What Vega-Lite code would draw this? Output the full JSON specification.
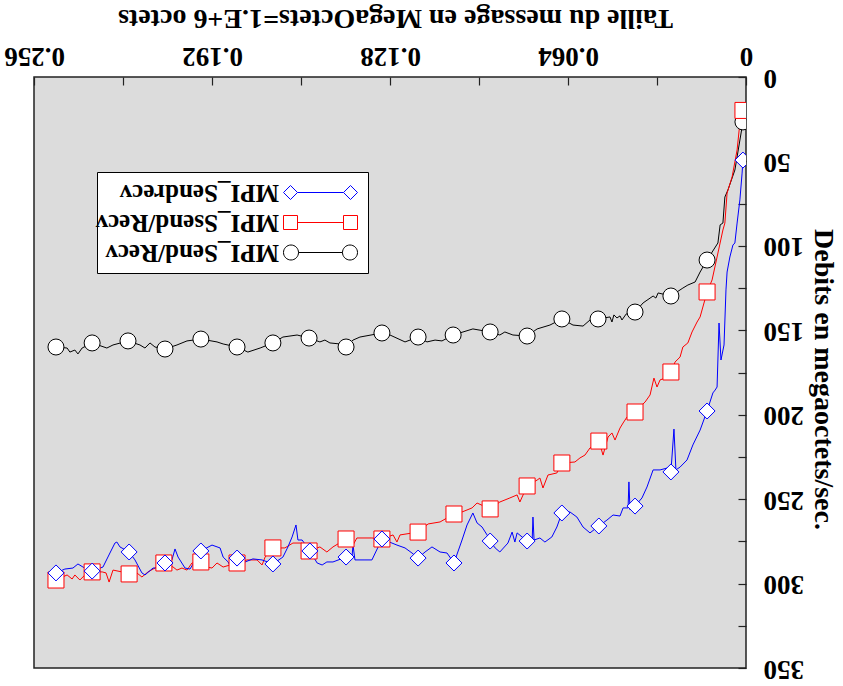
{
  "$schema": "https://vega.github.io/schema/vega-lite/v6.json",
  "width": 712,
  "height": 591,
  "autosize": {"type": "none"},
  "padding": {"left": 34, "top": 77, "right": 97, "bottom": 18},
  "background": "white",
  "config": {
    "view": {"fill": "#dcdcdc", "stroke": "#222222", "strokeWidth": 1.5},
    "font": "Liberation Serif",
    "axis": {
      "grid": false, "domain": false,
      "labelFont": "Liberation Serif", "labelFontSize": 27, "labelFontWeight": "bold", "labelColor": "black",
      "titleFont": "Liberation Serif", "titleFontSize": 28, "titleFontWeight": "bold", "titleColor": "black",
      "tickColor": "#222222", "tickSize": -8, "tickWidth": 1.2, "labelFlush": false, "labelOverlap": false
    }
  },
  "data": {"values": [
    {"s":"MPI_Send/Recv","x":0.0011,"y":26.6,"m":1},
    {"s":"MPI_Send/Recv","x":0.0040,"y":55.1},
    {"s":"MPI_Send/Recv","x":0.0065,"y":66.9},
    {"s":"MPI_Send/Recv","x":0.0076,"y":71.1},
    {"s":"MPI_Send/Recv","x":0.0083,"y":86.5},
    {"s":"MPI_Send/Recv","x":0.0093,"y":87.6},
    {"s":"MPI_Send/Recv","x":0.0101,"y":98.3},
    {"s":"MPI_Send/Recv","x":0.0140,"y":108.4,"m":1},
    {"s":"MPI_Send/Recv","x":0.0165,"y":115.5},
    {"s":"MPI_Send/Recv","x":0.0183,"y":121.4},
    {"s":"MPI_Send/Recv","x":0.0209,"y":123.2},
    {"s":"MPI_Send/Recv","x":0.0227,"y":125.0},
    {"s":"MPI_Send/Recv","x":0.0270,"y":129.7,"m":1},
    {"s":"MPI_Send/Recv","x":0.0316,"y":127.9},
    {"s":"MPI_Send/Recv","x":0.0324,"y":130.9},
    {"s":"MPI_Send/Recv","x":0.0334,"y":129.7},
    {"s":"MPI_Send/Recv","x":0.0370,"y":133.8},
    {"s":"MPI_Send/Recv","x":0.0399,"y":139.2,"m":1},
    {"s":"MPI_Send/Recv","x":0.0417,"y":139.2},
    {"s":"MPI_Send/Recv","x":0.0431,"y":140.4},
    {"s":"MPI_Send/Recv","x":0.0446,"y":143.9},
    {"s":"MPI_Send/Recv","x":0.0453,"y":141.5},
    {"s":"MPI_Send/Recv","x":0.0464,"y":142.7},
    {"s":"MPI_Send/Recv","x":0.0475,"y":140.9},
    {"s":"MPI_Send/Recv","x":0.0482,"y":145.1},
    {"s":"MPI_Send/Recv","x":0.0489,"y":142.1},
    {"s":"MPI_Send/Recv","x":0.0532,"y":143.3,"m":1},
    {"s":"MPI_Send/Recv","x":0.0561,"y":143.9},
    {"s":"MPI_Send/Recv","x":0.0586,"y":147.5},
    {"s":"MPI_Send/Recv","x":0.0622,"y":146.9},
    {"s":"MPI_Send/Recv","x":0.0662,"y":143.3,"m":1},
    {"s":"MPI_Send/Recv","x":0.0705,"y":146.9},
    {"s":"MPI_Send/Recv","x":0.0751,"y":149.2},
    {"s":"MPI_Send/Recv","x":0.0787,"y":153.4,"m":1},
    {"s":"MPI_Send/Recv","x":0.0838,"y":152.8},
    {"s":"MPI_Send/Recv","x":0.0867,"y":151.0},
    {"s":"MPI_Send/Recv","x":0.0885,"y":152.8},
    {"s":"MPI_Send/Recv","x":0.0920,"y":151.0,"m":1},
    {"s":"MPI_Send/Recv","x":0.0982,"y":149.2},
    {"s":"MPI_Send/Recv","x":0.1053,"y":152.8,"m":1},
    {"s":"MPI_Send/Recv","x":0.1093,"y":156.3},
    {"s":"MPI_Send/Recv","x":0.1118,"y":155.8},
    {"s":"MPI_Send/Recv","x":0.1147,"y":156.9},
    {"s":"MPI_Send/Recv","x":0.1179,"y":154.0,"m":1},
    {"s":"MPI_Send/Recv","x":0.1226,"y":156.9},
    {"s":"MPI_Send/Recv","x":0.1280,"y":152.8},
    {"s":"MPI_Send/Recv","x":0.1309,"y":151.6,"m":1},
    {"s":"MPI_Send/Recv","x":0.1388,"y":154.0},
    {"s":"MPI_Send/Recv","x":0.1413,"y":155.8},
    {"s":"MPI_Send/Recv","x":0.1438,"y":159.9,"m":1},
    {"s":"MPI_Send/Recv","x":0.1460,"y":158.1},
    {"s":"MPI_Send/Recv","x":0.1496,"y":157.5},
    {"s":"MPI_Send/Recv","x":0.1514,"y":155.8},
    {"s":"MPI_Send/Recv","x":0.1532,"y":156.9},
    {"s":"MPI_Send/Recv","x":0.1571,"y":154.6,"m":1},
    {"s":"MPI_Send/Recv","x":0.1614,"y":152.8},
    {"s":"MPI_Send/Recv","x":0.1665,"y":154.0},
    {"s":"MPI_Send/Recv","x":0.1701,"y":157.5,"m":1},
    {"s":"MPI_Send/Recv","x":0.1747,"y":160.5},
    {"s":"MPI_Send/Recv","x":0.1791,"y":162.9},
    {"s":"MPI_Send/Recv","x":0.1830,"y":159.9,"m":1},
    {"s":"MPI_Send/Recv","x":0.1880,"y":158.1},
    {"s":"MPI_Send/Recv","x":0.1902,"y":156.9},
    {"s":"MPI_Send/Recv","x":0.1960,"y":155.2,"m":1},
    {"s":"MPI_Send/Recv","x":0.2010,"y":156.3},
    {"s":"MPI_Send/Recv","x":0.2046,"y":158.7},
    {"s":"MPI_Send/Recv","x":0.2089,"y":161.1,"m":1},
    {"s":"MPI_Send/Recv","x":0.2125,"y":159.9},
    {"s":"MPI_Send/Recv","x":0.2143,"y":157.5},
    {"s":"MPI_Send/Recv","x":0.2161,"y":160.5},
    {"s":"MPI_Send/Recv","x":0.2179,"y":158.7},
    {"s":"MPI_Send/Recv","x":0.2222,"y":156.3,"m":1},
    {"s":"MPI_Send/Recv","x":0.2276,"y":158.7},
    {"s":"MPI_Send/Recv","x":0.2298,"y":160.5},
    {"s":"MPI_Send/Recv","x":0.2351,"y":157.5,"m":1},
    {"s":"MPI_Send/Recv","x":0.2387,"y":160.5},
    {"s":"MPI_Send/Recv","x":0.2402,"y":164.0},
    {"s":"MPI_Send/Recv","x":0.2413,"y":161.7},
    {"s":"MPI_Send/Recv","x":0.2431,"y":162.9},
    {"s":"MPI_Send/Recv","x":0.2441,"y":160.5},
    {"s":"MPI_Send/Recv","x":0.2481,"y":159.9,"m":1},

    {"s":"MPI_Ssend/Recv","x":0.0011,"y":19.8,"m":1},
    {"s":"MPI_Ssend/Recv","x":0.0022,"y":27.2},
    {"s":"MPI_Ssend/Recv","x":0.0032,"y":43.2},
    {"s":"MPI_Ssend/Recv","x":0.0050,"y":59.2},
    {"s":"MPI_Ssend/Recv","x":0.0068,"y":68.7},
    {"s":"MPI_Ssend/Recv","x":0.0076,"y":86.5},
    {"s":"MPI_Ssend/Recv","x":0.0083,"y":90.6},
    {"s":"MPI_Ssend/Recv","x":0.0104,"y":106.6},
    {"s":"MPI_Ssend/Recv","x":0.0122,"y":120.2},
    {"s":"MPI_Ssend/Recv","x":0.0140,"y":127.3,"m":1},
    {"s":"MPI_Ssend/Recv","x":0.0165,"y":142.1},
    {"s":"MPI_Ssend/Recv","x":0.0176,"y":145.1},
    {"s":"MPI_Ssend/Recv","x":0.0194,"y":151.0},
    {"s":"MPI_Ssend/Recv","x":0.0209,"y":157.5},
    {"s":"MPI_Ssend/Recv","x":0.0227,"y":159.9},
    {"s":"MPI_Ssend/Recv","x":0.0237,"y":165.8},
    {"s":"MPI_Ssend/Recv","x":0.0255,"y":168.8},
    {"s":"MPI_Ssend/Recv","x":0.0270,"y":174.7,"m":1},
    {"s":"MPI_Ssend/Recv","x":0.0291,"y":178.3},
    {"s":"MPI_Ssend/Recv","x":0.0309,"y":179.4},
    {"s":"MPI_Ssend/Recv","x":0.0320,"y":183.6},
    {"s":"MPI_Ssend/Recv","x":0.0331,"y":178.3},
    {"s":"MPI_Ssend/Recv","x":0.0345,"y":188.3},
    {"s":"MPI_Ssend/Recv","x":0.0363,"y":192.5},
    {"s":"MPI_Ssend/Recv","x":0.0374,"y":194.2},
    {"s":"MPI_Ssend/Recv","x":0.0399,"y":198.4,"m":1},
    {"s":"MPI_Ssend/Recv","x":0.0428,"y":201.4},
    {"s":"MPI_Ssend/Recv","x":0.0442,"y":204.9},
    {"s":"MPI_Ssend/Recv","x":0.0453,"y":207.9},
    {"s":"MPI_Ssend/Recv","x":0.0471,"y":215.0},
    {"s":"MPI_Ssend/Recv","x":0.0482,"y":210.8},
    {"s":"MPI_Ssend/Recv","x":0.0496,"y":213.2},
    {"s":"MPI_Ssend/Recv","x":0.0514,"y":223.9},
    {"s":"MPI_Ssend/Recv","x":0.0529,"y":215.6,"m":1},
    {"s":"MPI_Ssend/Recv","x":0.0561,"y":219.7},
    {"s":"MPI_Ssend/Recv","x":0.0579,"y":223.9},
    {"s":"MPI_Ssend/Recv","x":0.0597,"y":225.6},
    {"s":"MPI_Ssend/Recv","x":0.0615,"y":228.0},
    {"s":"MPI_Ssend/Recv","x":0.0662,"y":228.6,"m":1},
    {"s":"MPI_Ssend/Recv","x":0.0680,"y":234.5},
    {"s":"MPI_Ssend/Recv","x":0.0712,"y":235.7},
    {"s":"MPI_Ssend/Recv","x":0.0730,"y":243.4},
    {"s":"MPI_Ssend/Recv","x":0.0741,"y":237.5},
    {"s":"MPI_Ssend/Recv","x":0.0751,"y":238.7},
    {"s":"MPI_Ssend/Recv","x":0.0787,"y":242.2,"m":1},
    {"s":"MPI_Ssend/Recv","x":0.0813,"y":251.7},
    {"s":"MPI_Ssend/Recv","x":0.0823,"y":247.5},
    {"s":"MPI_Ssend/Recv","x":0.0849,"y":249.3},
    {"s":"MPI_Ssend/Recv","x":0.0885,"y":251.7},
    {"s":"MPI_Ssend/Recv","x":0.0920,"y":255.8,"m":1},
    {"s":"MPI_Ssend/Recv","x":0.0967,"y":252.3},
    {"s":"MPI_Ssend/Recv","x":0.0985,"y":255.2},
    {"s":"MPI_Ssend/Recv","x":0.1021,"y":257.6},
    {"s":"MPI_Ssend/Recv","x":0.1050,"y":258.8,"m":1},
    {"s":"MPI_Ssend/Recv","x":0.1100,"y":263.5},
    {"s":"MPI_Ssend/Recv","x":0.1143,"y":264.7},
    {"s":"MPI_Ssend/Recv","x":0.1179,"y":269.5,"m":1},
    {"s":"MPI_Ssend/Recv","x":0.1244,"y":271.2},
    {"s":"MPI_Ssend/Recv","x":0.1255,"y":275.4},
    {"s":"MPI_Ssend/Recv","x":0.1269,"y":271.2},
    {"s":"MPI_Ssend/Recv","x":0.1309,"y":273.6,"m":1},
    {"s":"MPI_Ssend/Recv","x":0.1345,"y":273.0},
    {"s":"MPI_Ssend/Recv","x":0.1399,"y":273.0},
    {"s":"MPI_Ssend/Recv","x":0.1413,"y":277.2},
    {"s":"MPI_Ssend/Recv","x":0.1438,"y":273.6,"m":1},
    {"s":"MPI_Ssend/Recv","x":0.1485,"y":278.3},
    {"s":"MPI_Ssend/Recv","x":0.1507,"y":281.3},
    {"s":"MPI_Ssend/Recv","x":0.1532,"y":278.3},
    {"s":"MPI_Ssend/Recv","x":0.1571,"y":280.7,"m":1},
    {"s":"MPI_Ssend/Recv","x":0.1596,"y":276.0},
    {"s":"MPI_Ssend/Recv","x":0.1629,"y":276.0},
    {"s":"MPI_Ssend/Recv","x":0.1658,"y":278.9},
    {"s":"MPI_Ssend/Recv","x":0.1701,"y":278.9,"m":1},
    {"s":"MPI_Ssend/Recv","x":0.1729,"y":284.3},
    {"s":"MPI_Ssend/Recv","x":0.1740,"y":289.0},
    {"s":"MPI_Ssend/Recv","x":0.1758,"y":286.0},
    {"s":"MPI_Ssend/Recv","x":0.1794,"y":286.0},
    {"s":"MPI_Ssend/Recv","x":0.1830,"y":287.8,"m":1},
    {"s":"MPI_Ssend/Recv","x":0.1880,"y":290.2},
    {"s":"MPI_Ssend/Recv","x":0.1902,"y":287.8},
    {"s":"MPI_Ssend/Recv","x":0.1920,"y":290.8},
    {"s":"MPI_Ssend/Recv","x":0.1938,"y":290.2},
    {"s":"MPI_Ssend/Recv","x":0.1960,"y":287.2,"m":1},
    {"s":"MPI_Ssend/Recv","x":0.1992,"y":287.8},
    {"s":"MPI_Ssend/Recv","x":0.2010,"y":292.0},
    {"s":"MPI_Ssend/Recv","x":0.2028,"y":290.8},
    {"s":"MPI_Ssend/Recv","x":0.2046,"y":292.0},
    {"s":"MPI_Ssend/Recv","x":0.2060,"y":290.2},
    {"s":"MPI_Ssend/Recv","x":0.2093,"y":287.8,"m":1},
    {"s":"MPI_Ssend/Recv","x":0.2125,"y":290.8},
    {"s":"MPI_Ssend/Recv","x":0.2150,"y":293.1},
    {"s":"MPI_Ssend/Recv","x":0.2172,"y":296.1},
    {"s":"MPI_Ssend/Recv","x":0.2190,"y":293.7},
    {"s":"MPI_Ssend/Recv","x":0.2218,"y":294.3,"m":1},
    {"s":"MPI_Ssend/Recv","x":0.2244,"y":293.1},
    {"s":"MPI_Ssend/Recv","x":0.2276,"y":292.0},
    {"s":"MPI_Ssend/Recv","x":0.2290,"y":299.1},
    {"s":"MPI_Ssend/Recv","x":0.2301,"y":293.7},
    {"s":"MPI_Ssend/Recv","x":0.2315,"y":293.1},
    {"s":"MPI_Ssend/Recv","x":0.2351,"y":293.1,"m":1},
    {"s":"MPI_Ssend/Recv","x":0.2377,"y":294.9},
    {"s":"MPI_Ssend/Recv","x":0.2395,"y":297.9},
    {"s":"MPI_Ssend/Recv","x":0.2413,"y":294.9},
    {"s":"MPI_Ssend/Recv","x":0.2423,"y":297.3},
    {"s":"MPI_Ssend/Recv","x":0.2441,"y":294.9},
    {"s":"MPI_Ssend/Recv","x":0.2481,"y":297.9,"m":1},

    {"s":"MPI_Sendrecv","x":0.0011,"y":49.2,"m":1},
    {"s":"MPI_Sendrecv","x":0.0014,"y":56.9},
    {"s":"MPI_Sendrecv","x":0.0022,"y":72.8},
    {"s":"MPI_Sendrecv","x":0.0032,"y":86.5},
    {"s":"MPI_Sendrecv","x":0.0040,"y":98.3},
    {"s":"MPI_Sendrecv","x":0.0047,"y":99.5},
    {"s":"MPI_Sendrecv","x":0.0058,"y":106.6},
    {"s":"MPI_Sendrecv","x":0.0068,"y":115.5},
    {"s":"MPI_Sendrecv","x":0.0072,"y":126.1},
    {"s":"MPI_Sendrecv","x":0.0079,"y":158.7},
    {"s":"MPI_Sendrecv","x":0.0090,"y":167.6},
    {"s":"MPI_Sendrecv","x":0.0097,"y":145.7},
    {"s":"MPI_Sendrecv","x":0.0104,"y":183.6},
    {"s":"MPI_Sendrecv","x":0.0111,"y":185.4},
    {"s":"MPI_Sendrecv","x":0.0119,"y":187.1},
    {"s":"MPI_Sendrecv","x":0.0140,"y":197.8,"m":1},
    {"s":"MPI_Sendrecv","x":0.0165,"y":209.1},
    {"s":"MPI_Sendrecv","x":0.0191,"y":217.9},
    {"s":"MPI_Sendrecv","x":0.0212,"y":226.8},
    {"s":"MPI_Sendrecv","x":0.0237,"y":231.0},
    {"s":"MPI_Sendrecv","x":0.0252,"y":232.7},
    {"s":"MPI_Sendrecv","x":0.0259,"y":208.5},
    {"s":"MPI_Sendrecv","x":0.0270,"y":233.9,"m":1},
    {"s":"MPI_Sendrecv","x":0.0284,"y":231.6},
    {"s":"MPI_Sendrecv","x":0.0309,"y":232.7},
    {"s":"MPI_Sendrecv","x":0.0334,"y":232.7},
    {"s":"MPI_Sendrecv","x":0.0356,"y":242.8},
    {"s":"MPI_Sendrecv","x":0.0374,"y":249.3},
    {"s":"MPI_Sendrecv","x":0.0399,"y":254.1,"m":1},
    {"s":"MPI_Sendrecv","x":0.0417,"y":256.4},
    {"s":"MPI_Sendrecv","x":0.0421,"y":239.8},
    {"s":"MPI_Sendrecv","x":0.0424,"y":255.2},
    {"s":"MPI_Sendrecv","x":0.0442,"y":255.2},
    {"s":"MPI_Sendrecv","x":0.0453,"y":260.0},
    {"s":"MPI_Sendrecv","x":0.0478,"y":259.4},
    {"s":"MPI_Sendrecv","x":0.0500,"y":262.4},
    {"s":"MPI_Sendrecv","x":0.0529,"y":265.9,"m":1},
    {"s":"MPI_Sendrecv","x":0.0561,"y":270.0},
    {"s":"MPI_Sendrecv","x":0.0586,"y":266.5},
    {"s":"MPI_Sendrecv","x":0.0608,"y":260.6},
    {"s":"MPI_Sendrecv","x":0.0633,"y":257.6},
    {"s":"MPI_Sendrecv","x":0.0662,"y":258.2,"m":1},
    {"s":"MPI_Sendrecv","x":0.0680,"y":266.5},
    {"s":"MPI_Sendrecv","x":0.0698,"y":272.4},
    {"s":"MPI_Sendrecv","x":0.0723,"y":275.4},
    {"s":"MPI_Sendrecv","x":0.0741,"y":273.0},
    {"s":"MPI_Sendrecv","x":0.0762,"y":274.2},
    {"s":"MPI_Sendrecv","x":0.0766,"y":260.6},
    {"s":"MPI_Sendrecv","x":0.0769,"y":275.4},
    {"s":"MPI_Sendrecv","x":0.0787,"y":274.8,"m":1},
    {"s":"MPI_Sendrecv","x":0.0823,"y":270.0},
    {"s":"MPI_Sendrecv","x":0.0831,"y":275.4},
    {"s":"MPI_Sendrecv","x":0.0841,"y":269.5},
    {"s":"MPI_Sendrecv","x":0.0856,"y":276.0},
    {"s":"MPI_Sendrecv","x":0.0885,"y":281.3},
    {"s":"MPI_Sendrecv","x":0.0902,"y":278.9},
    {"s":"MPI_Sendrecv","x":0.0920,"y":274.8,"m":1},
    {"s":"MPI_Sendrecv","x":0.0931,"y":271.2},
    {"s":"MPI_Sendrecv","x":0.0949,"y":266.5},
    {"s":"MPI_Sendrecv","x":0.0967,"y":264.1},
    {"s":"MPI_Sendrecv","x":0.0982,"y":258.2},
    {"s":"MPI_Sendrecv","x":0.1003,"y":265.3},
    {"s":"MPI_Sendrecv","x":0.1021,"y":274.2},
    {"s":"MPI_Sendrecv","x":0.1050,"y":287.8,"m":1},
    {"s":"MPI_Sendrecv","x":0.1075,"y":281.9},
    {"s":"MPI_Sendrecv","x":0.1100,"y":281.3},
    {"s":"MPI_Sendrecv","x":0.1129,"y":278.3},
    {"s":"MPI_Sendrecv","x":0.1154,"y":281.3},
    {"s":"MPI_Sendrecv","x":0.1179,"y":284.9,"m":1},
    {"s":"MPI_Sendrecv","x":0.1201,"y":281.9},
    {"s":"MPI_Sendrecv","x":0.1226,"y":278.9},
    {"s":"MPI_Sendrecv","x":0.1255,"y":277.2},
    {"s":"MPI_Sendrecv","x":0.1309,"y":273.6,"m":1},
    {"s":"MPI_Sendrecv","x":0.1345,"y":286.0},
    {"s":"MPI_Sendrecv","x":0.1370,"y":286.0},
    {"s":"MPI_Sendrecv","x":0.1406,"y":286.0},
    {"s":"MPI_Sendrecv","x":0.1413,"y":277.2},
    {"s":"MPI_Sendrecv","x":0.1417,"y":284.9},
    {"s":"MPI_Sendrecv","x":0.1438,"y":284.3,"m":1},
    {"s":"MPI_Sendrecv","x":0.1485,"y":287.2},
    {"s":"MPI_Sendrecv","x":0.1507,"y":287.2},
    {"s":"MPI_Sendrecv","x":0.1524,"y":289.0},
    {"s":"MPI_Sendrecv","x":0.1542,"y":287.8},
    {"s":"MPI_Sendrecv","x":0.1568,"y":280.7,"m":1},
    {"s":"MPI_Sendrecv","x":0.1596,"y":274.2},
    {"s":"MPI_Sendrecv","x":0.1611,"y":274.2},
    {"s":"MPI_Sendrecv","x":0.1618,"y":265.3},
    {"s":"MPI_Sendrecv","x":0.1632,"y":272.4},
    {"s":"MPI_Sendrecv","x":0.1647,"y":278.3},
    {"s":"MPI_Sendrecv","x":0.1665,"y":284.3},
    {"s":"MPI_Sendrecv","x":0.1701,"y":288.4,"m":1},
    {"s":"MPI_Sendrecv","x":0.1740,"y":286.0},
    {"s":"MPI_Sendrecv","x":0.1773,"y":285.4},
    {"s":"MPI_Sendrecv","x":0.1801,"y":287.2},
    {"s":"MPI_Sendrecv","x":0.1830,"y":284.9,"m":1},
    {"s":"MPI_Sendrecv","x":0.1848,"y":292.0},
    {"s":"MPI_Sendrecv","x":0.1862,"y":287.2},
    {"s":"MPI_Sendrecv","x":0.1880,"y":284.3},
    {"s":"MPI_Sendrecv","x":0.1891,"y":278.9},
    {"s":"MPI_Sendrecv","x":0.1920,"y":277.2},
    {"s":"MPI_Sendrecv","x":0.1960,"y":280.7,"m":1},
    {"s":"MPI_Sendrecv","x":0.1999,"y":291.4},
    {"s":"MPI_Sendrecv","x":0.2017,"y":290.8},
    {"s":"MPI_Sendrecv","x":0.2042,"y":284.3},
    {"s":"MPI_Sendrecv","x":0.2053,"y":279.5},
    {"s":"MPI_Sendrecv","x":0.2064,"y":286.0},
    {"s":"MPI_Sendrecv","x":0.2089,"y":287.8,"m":1},
    {"s":"MPI_Sendrecv","x":0.2114,"y":290.8},
    {"s":"MPI_Sendrecv","x":0.2132,"y":290.8},
    {"s":"MPI_Sendrecv","x":0.2161,"y":294.9},
    {"s":"MPI_Sendrecv","x":0.2172,"y":293.7},
    {"s":"MPI_Sendrecv","x":0.2197,"y":286.0},
    {"s":"MPI_Sendrecv","x":0.2218,"y":281.3,"m":1},
    {"s":"MPI_Sendrecv","x":0.2251,"y":278.3},
    {"s":"MPI_Sendrecv","x":0.2262,"y":275.4},
    {"s":"MPI_Sendrecv","x":0.2269,"y":276.0},
    {"s":"MPI_Sendrecv","x":0.2287,"y":281.9},
    {"s":"MPI_Sendrecv","x":0.2312,"y":290.2},
    {"s":"MPI_Sendrecv","x":0.2351,"y":292.6,"m":1},
    {"s":"MPI_Sendrecv","x":0.2384,"y":290.2},
    {"s":"MPI_Sendrecv","x":0.2402,"y":288.4},
    {"s":"MPI_Sendrecv","x":0.2420,"y":290.8},
    {"s":"MPI_Sendrecv","x":0.2449,"y":291.4},
    {"s":"MPI_Sendrecv","x":0.2481,"y":293.7,"m":1}
  ]},
  "encoding": {
    "x": {
      "field": "x", "type": "quantitative",
      "scale": {"domain": [0, 0.256], "reverse": true, "nice": false, "zero": false},
      "axis": {
        "orient": "top",
        "values": [0, 0.032, 0.064, 0.096, 0.128, 0.16, 0.192, 0.224, 0.256],
        "labelExpr": "(round(datum.value * 1000) % 64 == 0) ? format(datum.value, '~g') : ''",
        "labelAngle": 180, "labelAlign": "center", "labelBaseline": "top", "labelPadding": 17,
        "title": "Taille du message en MegaOctets=1.E+6 octets",
        "titleAngle": 180, "titleAlign": "center", "titleBaseline": "middle",
        "titleX": 361, "titleY": -60
      }
    },
    "y": {
      "field": "y", "type": "quantitative",
      "scale": {"domain": [0, 350], "reverse": true, "nice": false, "zero": false},
      "axis": {
        "orient": "right",
        "values": [0, 25, 50, 75, 100, 125, 150, 175, 200, 225, 250, 275, 300, 325, 350],
        "labelExpr": "datum.value % 50 == 0 ? datum.label : ''",
        "labelAngle": 180, "labelAlign": "right", "labelBaseline": "middle", "labelPadding": 25,
        "title": "Debits en megaoctets/sec.",
        "titleAngle": 90, "titleAlign": "center", "titleBaseline": "middle",
        "titleX": 76, "titleY": 302
      }
    },
    "color": {
      "field": "s", "type": "nominal",
      "scale": {"domain": ["MPI_Sendrecv", "MPI_Ssend/Recv", "MPI_Send/Recv"], "range": ["#0000ff", "#ff0000", "#000000"]},
      "legend": null
    }
  },
  "layer": [
    {
      "mark": {"type": "line", "strokeWidth": 1, "clip": true},
      "encoding": {
        "color": {
          "field": "s", "type": "nominal",
          "scale": {"domain": ["MPI_Sendrecv", "MPI_Ssend/Recv", "MPI_Send/Recv"], "range": ["#0000ff", "#ff0000", "#000000"]},
          "legend": {
            "orient": "none", "legendX": 63, "legendY": 95,
            "title": null,
            "fillColor": "white", "strokeColor": "black", "padding": 8,
            "labelFont": "Liberation Serif", "labelFontSize": 25, "labelFontWeight": "bold", "labelColor": "black",
            "labelLimit": 500, "labelOffset": -54, "symbolOffset": 203,
            "symbolSize": 256, "symbolStrokeWidth": 1,
            "rowPadding": 4,
            "encode": {
              "symbols": {"update": {
                "shape": {"signal": "datum.value === 'MPI_Sendrecv' ? 'M-4.625,0L-3.75,-0.875L-2.875,0L-3.75,0.875Z M2.875,0L3.75,-0.875L4.625,0L3.75,0.875Z M-2.875,0L2.875,0' : datum.value === 'MPI_Ssend/Recv' ? 'M-4.625,-0.875L-2.875,-0.875L-2.875,0.875L-4.625,0.875Z M2.875,-0.875L4.625,-0.875L4.625,0.875L2.875,0.875Z M-2.875,0L2.875,0' : 'M-2.75,0A0.9375,0.9375 0 1 1 -4.625,0A0.9375,0.9375 0 1 1 -2.75,0Z M4.625,0A0.9375,0.9375 0 1 1 2.75,0A0.9375,0.9375 0 1 1 4.625,0Z M-2.75,0L2.75,0'"},
                "size": {"value": 256},
                "fill": {"value": "white"},
                "strokeWidth": {"value": 1},
                "opacity": {"value": 1}
              }},
              "labels": {"update": {"angle": {"value": 180}, "align": {"value": "left"}}}
            }
          }
        }
      }
    },
    {
      "transform": [{"filter": "datum.m == 1 && datum.s == 'MPI_Send/Recv'"}],
      "mark": {"type": "point", "shape": "circle", "filled": false, "fill": "white", "fillOpacity": 1, "opacity": 1, "size": 256, "strokeWidth": 1, "clip": true}
    },
    {
      "transform": [{"filter": "datum.m == 1 && datum.s == 'MPI_Ssend/Recv'"}],
      "mark": {"type": "point", "shape": "square", "filled": false, "fill": "white", "fillOpacity": 1, "opacity": 1, "size": 256, "strokeWidth": 1, "clip": true}
    },
    {
      "transform": [{"filter": "datum.m == 1 && datum.s == 'MPI_Sendrecv'"}],
      "mark": {"type": "point", "shape": "diamond", "filled": false, "fill": "white", "fillOpacity": 1, "opacity": 1, "size": 256, "strokeWidth": 1, "clip": true}
    }
  ]
}
